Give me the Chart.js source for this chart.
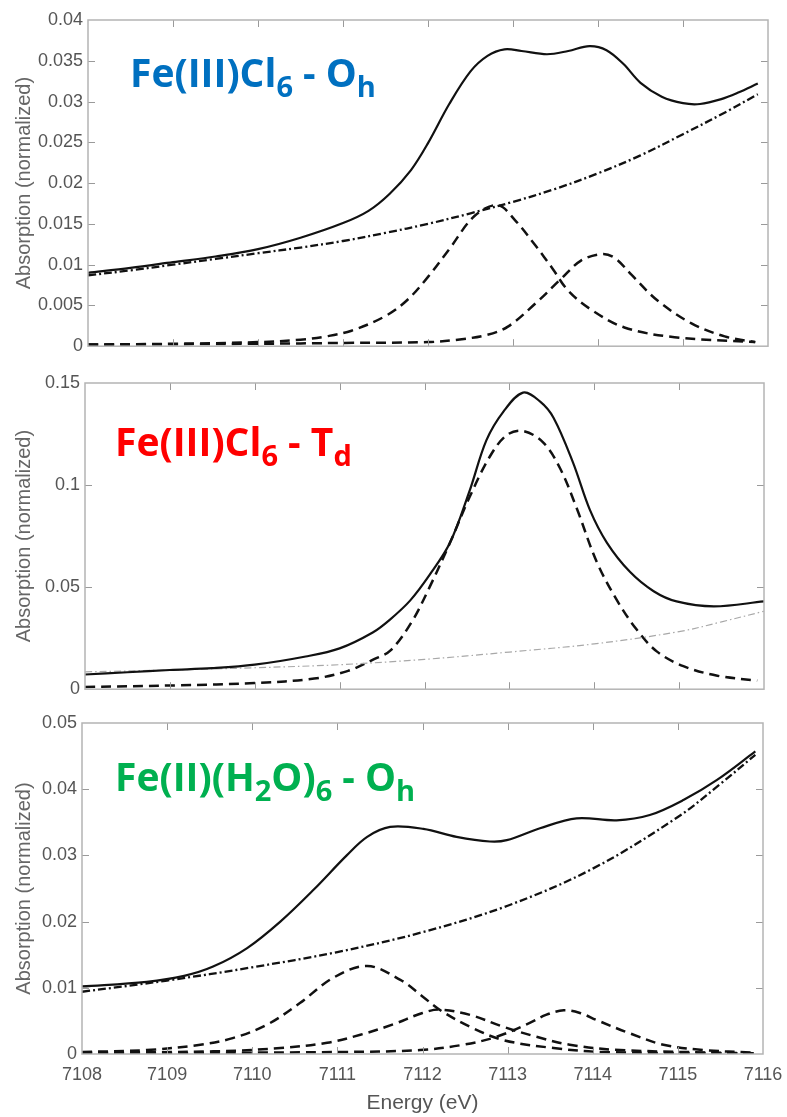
<!DOCTYPE html>
<html>
<head>
<meta charset="utf-8">
<script src="https://cdn.jsdelivr.net/npm/chart.js@4.4.1/dist/chart.umd.min.js"></script>
<style>
  body { margin: 0; background: #fff; }
  #wrap { position: relative; width: 787px; height: 1117px; overflow: hidden; }
  #wrap canvas { position: absolute; left: 0; }
  .lbl { position: absolute; font-family: "Open Sans", "Noto Sans", sans-serif; font-weight: 700;
         font-size: 39px; line-height: 39px; white-space: nowrap; }
  .lbl sub { font-size: 29px; vertical-align: baseline; position: relative; top: 10px; }
</style>
</head>
<body>
<div id="wrap">
  <canvas id="cOh" width="787" height="362" style="top:0px"></canvas>
  <canvas id="cTd" width="787" height="343" style="top:362px"></canvas>
  <canvas id="cAq" width="787" height="412" style="top:705px"></canvas>
  <div class="lbl" style="left:130px; top:52px; color:#0070C0">Fe(III)Cl<sub>6</sub> - O<sub>h</sub></div>
  <div class="lbl" style="left:115px; top:421px; color:#FF0000">Fe(III)Cl<sub>6</sub> - T<sub>d</sub></div>
  <div class="lbl" style="left:115px; top:756px; color:#00B050">Fe(II)(H<sub>2</sub>O)<sub>6</sub> - O<sub>h</sub></div>
</div>
<script>
// ---- Fe(III)Cl6 - Oh ----
var ohTotalE = [7108, 7108.5, 7109, 7109.5, 7110, 7110.5, 7111, 7111.3, 7111.55, 7111.8, 7112.0, 7112.25, 7112.5, 7112.7, 7112.9, 7113.1, 7113.4, 7113.65, 7113.9, 7114.1, 7114.3, 7114.5, 7114.75, 7115.0, 7115.2, 7115.45, 7115.65, 7115.88];
var ohTotal  = [0.0090, 0.0096, 0.0103, 0.0110, 0.0119, 0.0133, 0.0151, 0.0166, 0.0187, 0.0216, 0.0249, 0.0297, 0.0337, 0.0356, 0.0364, 0.0362, 0.0358, 0.0362, 0.0368, 0.0363, 0.0346, 0.0323, 0.0306, 0.0298, 0.0297, 0.0303, 0.0311, 0.0322];
var ohBaseE = [7108, 7108.5, 7109, 7109.5, 7110, 7110.5, 7111, 7111.5, 7112, 7112.5, 7113, 7113.5, 7114, 7114.5, 7115, 7115.5, 7115.88];
var ohBase  = [0.0087, 0.0093, 0.0100, 0.0107, 0.0114, 0.0121, 0.0129, 0.0139, 0.0150, 0.0163, 0.0177, 0.0193, 0.0212, 0.0234, 0.0260, 0.0287, 0.0309];
var ohPk1E = [7108, 7109, 7110, 7110.5, 7110.8, 7111.1, 7111.5, 7111.75, 7112.0, 7112.25, 7112.55, 7112.82, 7113.02, 7113.26, 7113.46, 7113.65, 7113.93, 7114.31, 7114.9, 7115.85];
var ohPk1  = [0.0002, 0.0003, 0.0005, 0.0008, 0.0012, 0.0019, 0.0037, 0.0056, 0.0085, 0.0119, 0.0160, 0.0173, 0.0155, 0.0124, 0.0096, 0.0068, 0.0044, 0.0023, 0.0011, 0.0005];
var ohPk2E = [7108, 7110, 7111, 7112, 7112.35, 7112.7, 7112.94, 7113.26, 7113.57, 7113.8, 7114.05, 7114.2, 7114.39, 7114.7, 7115.1, 7115.49, 7115.85];
var ohPk2  = [0.0002, 0.0003, 0.0004, 0.0005, 0.0008, 0.0014, 0.0024, 0.0052, 0.0083, 0.0105, 0.0113, 0.0108, 0.0088, 0.0056, 0.0028, 0.0012, 0.0005];

// ---- Fe(III)Cl6 - Td ----
var tdTotalE = [7108, 7108.5, 7109, 7109.5, 7110, 7110.6, 7111, 7111.39, 7111.59, 7111.83, 7112.06, 7112.3, 7112.53, 7112.73, 7112.93, 7113.16, 7113.36, 7113.52, 7113.75, 7113.95, 7114.15, 7114.42, 7114.7, 7114.97, 7115.41, 7116];
var tdTotal  = [0.0072, 0.0083, 0.0094, 0.0103, 0.0120, 0.0160, 0.0200, 0.0278, 0.0340, 0.0434, 0.0560, 0.0717, 0.0970, 0.1220, 0.1360, 0.1453, 0.1410, 0.1330, 0.1110, 0.0877, 0.0717, 0.0575, 0.0480, 0.0430, 0.0406, 0.0430];
var tdPkE = [7108, 7109.1, 7110, 7110.7, 7111.1, 7111.4, 7111.6, 7111.85, 7112.06, 7112.3, 7112.53, 7112.77, 7112.97, 7113.16, 7113.4, 7113.6, 7113.79, 7114.03, 7114.27, 7114.5, 7114.74, 7115.05, 7115.45, 7115.92];
var tdPk  = [0.0011, 0.0019, 0.0030, 0.0052, 0.0090, 0.0146, 0.0190, 0.0330, 0.0500, 0.0717, 0.0940, 0.1140, 0.1245, 0.1265, 0.1208, 0.1080, 0.0890, 0.0623, 0.0434, 0.0292, 0.0184, 0.0113, 0.0066, 0.0042];
var tdBaseE = [7108, 7109, 7110, 7111, 7112, 7113, 7114, 7115, 7115.5, 7116];
var tdBase  = [0.0085, 0.0094, 0.0105, 0.0120, 0.0146, 0.0182, 0.0222, 0.0282, 0.0330, 0.0382];

// ---- Fe(II)(H2O)6 - Oh ----
var aqTotalE = [7108, 7108.76, 7109.2, 7109.54, 7109.94, 7110.33, 7110.72, 7111.11, 7111.35, 7111.62, 7112.01, 7112.4, 7112.79, 7112.99, 7113.38, 7113.81, 7114.28, 7114.67, 7115.07, 7115.46, 7115.91];
var aqTotal  = [0.0102, 0.0109, 0.0118, 0.0132, 0.0160, 0.0200, 0.0248, 0.0300, 0.0328, 0.0343, 0.0340, 0.0328, 0.0321, 0.0323, 0.0341, 0.0356, 0.0353, 0.0361, 0.0384, 0.0414, 0.0457];
var aqBaseE = [7108, 7109, 7110, 7111, 7112, 7113, 7114, 7115, 7115.5, 7115.91];
var aqBase  = [0.0094, 0.0111, 0.0131, 0.0154, 0.0184, 0.0224, 0.0280, 0.0358, 0.0408, 0.0452];
var aqPk1E = [7108, 7108.76, 7109.39, 7109.77, 7110.17, 7110.56, 7110.95, 7111.35, 7111.74, 7112.0, 7112.21, 7112.56, 7112.95, 7113.54, 7114.13, 7115.9];
var aqPk1  = [0.0003, 0.0006, 0.0014, 0.0024, 0.0044, 0.0077, 0.0115, 0.0133, 0.0112, 0.0087, 0.0066, 0.0041, 0.0021, 0.0009, 0.0003, 0.0001];
var aqPk2E = [7108, 7109.54, 7110.33, 7110.88, 7111.27, 7111.66, 7112.0, 7112.2, 7112.56, 7112.95, 7113.34, 7113.73, 7114.32, 7115.9];
var aqPk2  = [0.0002, 0.0004, 0.0009, 0.0017, 0.0029, 0.0045, 0.0062, 0.0067, 0.0059, 0.0041, 0.0026, 0.0014, 0.0006, 0.0001];
var aqPk3E = [7108, 7111, 7111.97, 7112.48, 7112.87, 7113.26, 7113.45, 7113.66, 7113.85, 7114.05, 7114.44, 7114.83, 7115.3, 7115.89];
var aqPk3  = [0.0001, 0.0003, 0.0006, 0.0014, 0.0026, 0.0047, 0.0059, 0.0066, 0.0062, 0.0051, 0.0031, 0.0014, 0.0006, 0.0002];

var energyTicks = [7108, 7109, 7110, 7111, 7112, 7113, 7114, 7115, 7116];

function pts(xs, ys) {
    return xs.map(function(x, i) { return { x: x, y: ys[i] }; });
}

var tickFont = { family: "'Liberation Sans', Arial, sans-serif", size: 18 };
var titleFont = { family: "'Liberation Sans', Arial, sans-serif", size: 20 };

// box round the plot + inward tick marks on all four sides (matlab look)
var frame = {
    id: 'frame',
    afterDatasetsDraw: function(chart) {
        var ctx = chart.ctx, a = chart.chartArea;
        var sx = chart.scales.x, sy = chart.scales.y;
        ctx.save();
        ctx.strokeStyle = '#9a9a9a';
        ctx.lineWidth = 1;
        ctx.beginPath();
        sx.ticks.forEach(function(t) {
            var p = Math.round(sx.getPixelForValue(t.value)) + 0.5;
            if (p <= a.left + 1 || p >= a.right - 1) return;
            ctx.moveTo(p, a.bottom); ctx.lineTo(p, a.bottom - 7);
            ctx.moveTo(p, a.top); ctx.lineTo(p, a.top + 7);
        });
        sy.ticks.forEach(function(t) {
            var p = Math.round(sy.getPixelForValue(t.value)) + 0.5;
            if (p <= a.top + 1 || p >= a.bottom - 1) return;
            ctx.moveTo(a.left, p); ctx.lineTo(a.left + 7, p);
            ctx.moveTo(a.right, p); ctx.lineTo(a.right - 7, p);
        });
        ctx.stroke();
        ctx.strokeStyle = '#b4b4b4';
        ctx.lineWidth = 1.5;
        ctx.strokeRect(a.left, a.top, a.right - a.left, a.bottom - a.top);
        ctx.restore();
    }
};

function line(data, style) {
    var d = {
        data: data,
        borderColor: '#111',
        borderWidth: 2.2,
        pointRadius: 0,
        fill: false,
        tension: 0.35
    };
    if (style === 'dash') { d.borderDash = [10, 6]; d.borderWidth = 2.5; }
    if (style === 'dashdot') { d.borderDash = [8, 3, 2, 3]; d.borderWidth = 2.3; }
    if (style === 'greydot') { d.borderDash = [7, 3, 1.5, 3]; d.borderWidth = 1.2; d.borderColor = '#a8a8a8'; }
    return d;
}

function panel(id, datasets, yMax, yStep, axisW, top, xH, right, showX) {
    return new Chart(document.getElementById(id), {
        type: 'line',
        data: { datasets: datasets },
        plugins: [frame],
        options: {
            responsive: false,
            animation: false,
            events: [],
            layout: { padding: { left: 0, right: right, top: top, bottom: 0 } },
            plugins: { legend: { display: false }, tooltip: { enabled: false } },
            scales: {
                x: {
                    type: 'linear',
                    min: 7108, max: 7116,
                    grid: { display: false, drawTicks: false },
                    border: { display: false },
                    afterBuildTicks: function(s) { s.ticks = energyTicks.map(function(v) { return { value: v }; }); },
                    // fixed height, and no extra room asked for the end labels
                    afterFit: function(s) { s.height = xH; s.paddingLeft = 0; s.paddingRight = 0; },
                    ticks: { display: showX, font: tickFont, color: '#555', padding: 10, maxRotation: 0,
                             callback: function(v) { return String(v); } },
                    title: { display: showX, text: 'Energy (eV)', font: { family: tickFont.family, size: 21 }, color: '#555', padding: { top: 0, bottom: 1 } }
                },
                y: {
                    min: 0, max: yMax,
                    grid: { display: false, drawTicks: false },
                    border: { display: false },
                    afterFit: function(s) { s.width = axisW; },
                    ticks: {
                        stepSize: yStep,
                        font: tickFont,
                        color: '#555',
                        padding: 5,
                        callback: function(v) { return String(parseFloat(v.toFixed(4))); }
                    },
                    title: { display: true, text: 'Absorption (normalized)', font: titleFont, color: '#666', padding: { top: 12, bottom: 0 } }
                }
            }
        }
    });
}

panel('cOh', [
    line(pts(ohTotalE, ohTotal), 'solid'),
    line(pts(ohBaseE, ohBase), 'dashdot'),
    line(pts(ohPk1E, ohPk1), 'dash'),
    line(pts(ohPk2E, ohPk2), 'dash')
], 0.04, 0.005, 88, 20, 5, 19, false);

panel('cTd', [
    line(pts(tdTotalE, tdTotal), 'solid'),
    line(pts(tdBaseE, tdBase), 'greydot'),
    line(pts(tdPkE, tdPk), 'dash')
], 0.15, 0.05, 85, 21, 5, 23, false);

panel('cAq', [
    line(pts(aqTotalE, aqTotal), 'solid'),
    line(pts(aqBaseE, aqBase), 'dashdot'),
    line(pts(aqPk1E, aqPk1), 'dash'),
    line(pts(aqPk2E, aqPk2), 'dash'),
    line(pts(aqPk3E, aqPk3), 'dash')
], 0.05, 0.01, 82, 18, 63, 24, true);
</script>
</body>
</html>
